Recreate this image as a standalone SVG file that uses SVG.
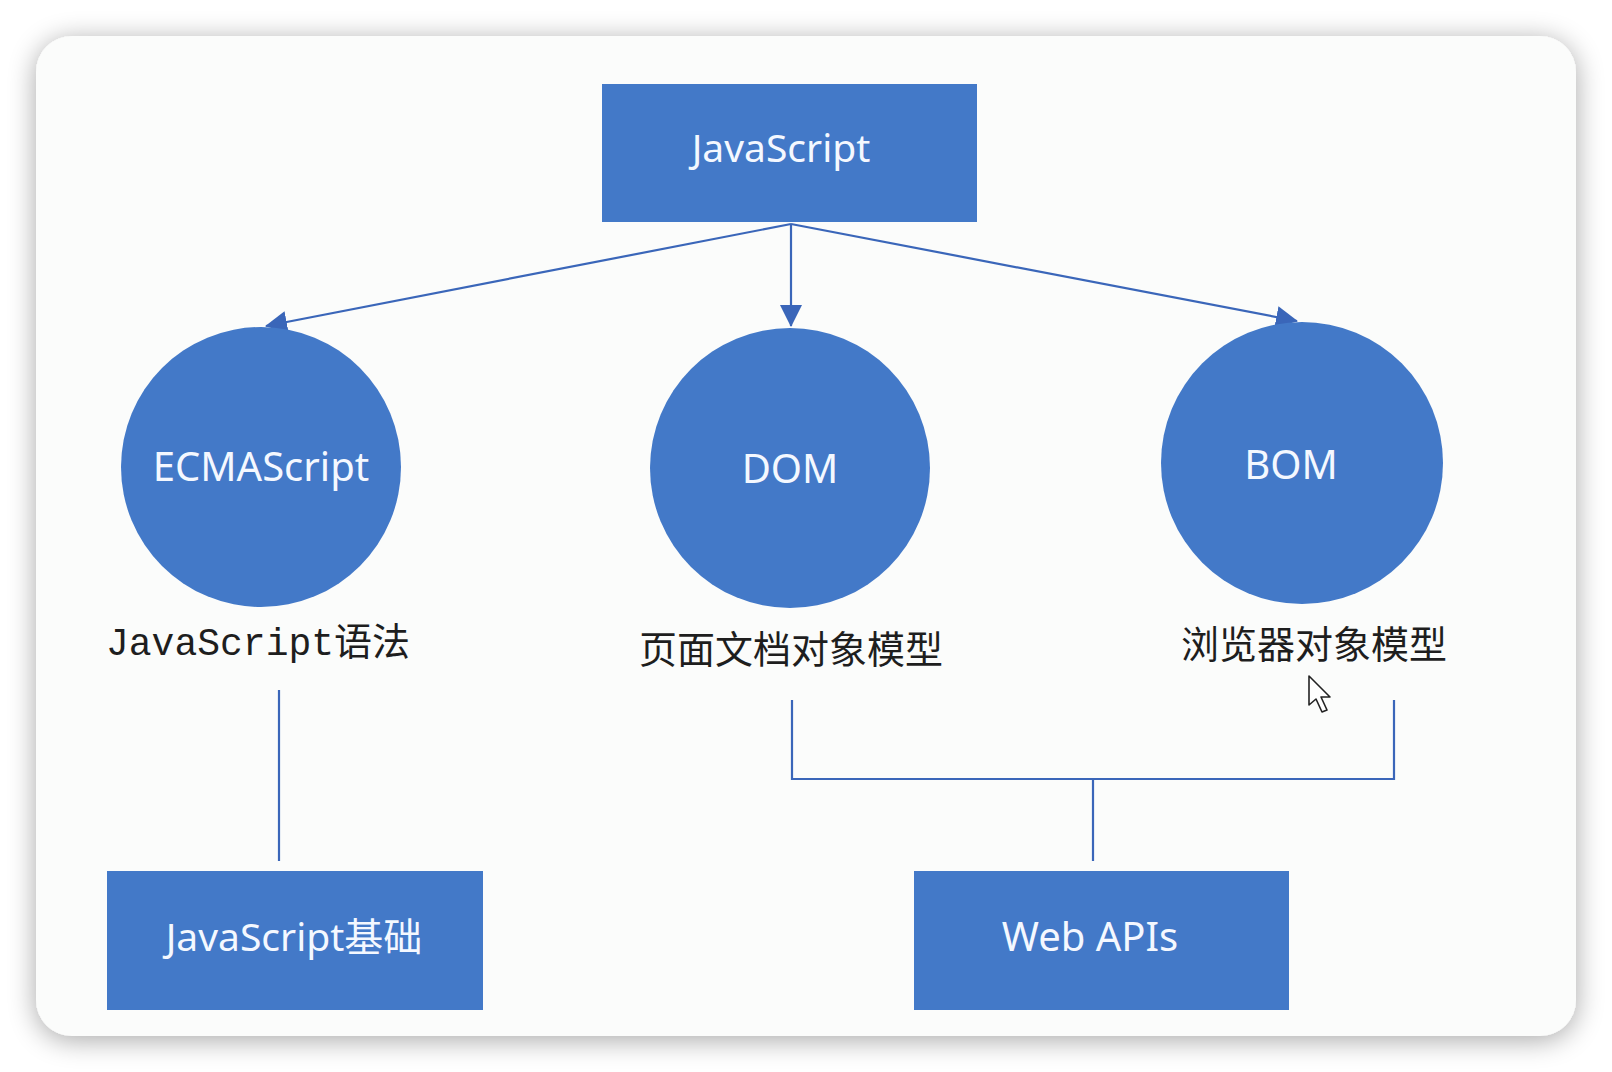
<svg xmlns="http://www.w3.org/2000/svg" width="1612" height="1072" viewBox="0 0 1612 1072">
  <defs>
    <filter id="shadow" x="-10%" y="-10%" width="120%" height="120%">
      <feGaussianBlur in="SourceAlpha" stdDeviation="14"/>
      <feOffset dx="0" dy="4"/>
      <feComponentTransfer><feFuncA type="linear" slope="0.35"/></feComponentTransfer>
      <feMerge><feMergeNode/><feMergeNode in="SourceGraphic"/></feMerge>
    </filter>
    <marker id="arrow" markerUnits="userSpaceOnUse" markerWidth="22" markerHeight="22" viewBox="0 0 22 22" refX="21" refY="11" orient="auto">
      <path d="M0,0 L22,11 L0,22 Z" fill="#3A66B9"/>
    </marker>
    <style>
      .node { fill: #4379C8; }
      .ntext { fill: #F4F8FF; font-family: "Noto Sans", "Open Sans", "Noto Sans CJK SC", sans-serif; text-anchor: middle; }
      .label { fill: #1E1E1E; font-family: "Noto Sans CJK SC", sans-serif; text-anchor: middle; font-size: 38px; }
      .mono { font-family: "Liberation Mono", "Noto Sans CJK SC", monospace; text-anchor: start; }
      .conn { stroke: #3A66B9; stroke-width: 2.2; fill: none; }
    </style>
  </defs>
  <rect width="1612" height="1072" fill="#FFFFFF"/>
  <rect x="36" y="36" width="1540" height="1000" rx="36" ry="36" fill="#FBFCFB" filter="url(#shadow)"/>

  <g id="connectors">
    <line class="conn" x1="791" y1="224" x2="266" y2="326" marker-end="url(#arrow)"/>
    <line class="conn" x1="791" y1="224" x2="791" y2="326" marker-end="url(#arrow)"/>
    <line class="conn" x1="791" y1="224" x2="1297" y2="321" marker-end="url(#arrow)"/>
    <line class="conn" x1="279" y1="690" x2="279" y2="861"/>
    <path class="conn" d="M792,700 V779 H1394 V700"/>
    <line class="conn" x1="1093" y1="779" x2="1093" y2="861"/>
  </g>

  <g id="node-javascript">
    <rect class="node" x="602" y="84" width="375" height="138"/>
    <text class="ntext" x="781" y="162" font-size="39">JavaScript</text>
  </g>

  <g id="node-ecmascript">
    <circle class="node" cx="261" cy="467" r="140"/>
    <text class="ntext" x="261" y="481" font-size="40">ECMAScript</text>
  </g>
  <g id="label-ecmascript">
    <text class="label mono" x="106" y="655" font-size="39">JavaScript语法</text>
  </g>

  <g id="node-dom">
    <circle class="node" cx="790" cy="468" r="140"/>
    <text class="ntext" x="790" y="483" font-size="40">DOM</text>
  </g>
  <g id="label-dom">
    <text class="label" x="791" y="663">页面文档对象模型</text>
  </g>

  <g id="node-bom">
    <circle class="node" cx="1302" cy="463" r="141"/>
    <text class="ntext" x="1291" y="479" font-size="40">BOM</text>
  </g>
  <g id="label-bom">
    <text class="label" x="1314" y="658">浏览器对象模型</text>
  </g>

  <g id="node-jsbase">
    <rect class="node" x="107" y="871" width="376" height="139"/>
    <text class="ntext" x="294" y="951" font-size="39">JavaScript基础</text>
  </g>

  <g id="node-webapis">
    <rect class="node" x="914" y="871" width="375" height="139"/>
    <text class="ntext" x="1090" y="951" font-size="40">Web APIs</text>
  </g>

  <g id="cursor">
    <path d="M1309,676 L1309,705 L1316,699 L1322,712 L1327,710 L1321,697 L1330,697 Z" fill="#FFFFFF" stroke="#222" stroke-width="1.6" stroke-linejoin="round"/>
  </g>
</svg>
